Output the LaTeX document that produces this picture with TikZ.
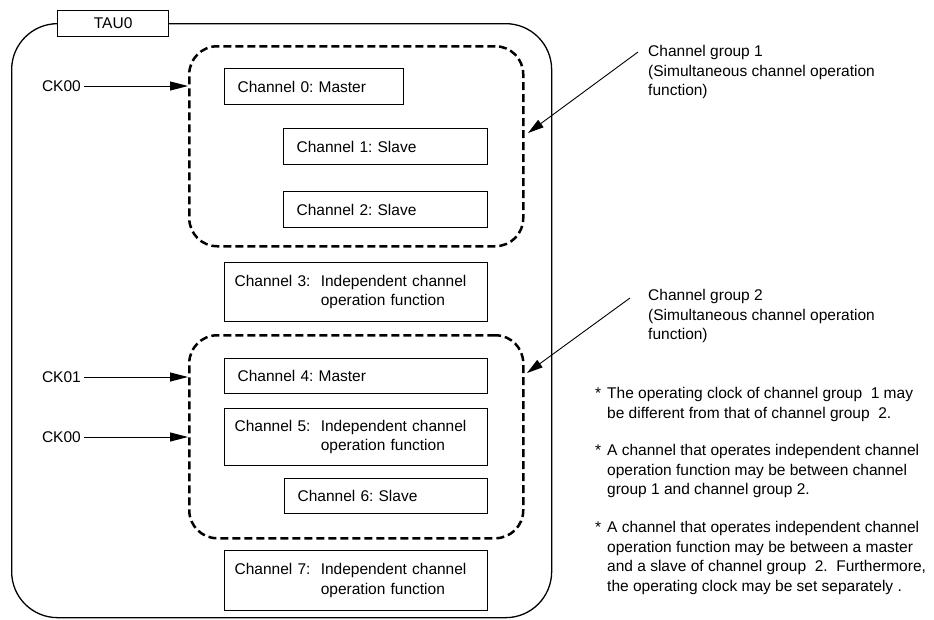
\documentclass[tikz,border=0pt]{standalone}
\usepackage{fontspec}
\setmainfont{Liberation Sans}
\usetikzlibrary{arrows.meta}
\begin{document}
\frenchspacing
\begin{tikzpicture}[x=1pt,y=-1pt,
  every node/.style={font=\fontsize{15.5}{19.5}\selectfont\frenchspacing},
  frame/.style={draw, line width=1.3pt, rounded corners=46pt, anchor=north west, inner sep=0pt},
  grp/.style={draw, line width=2.5pt, dash pattern=on 8pt off 4pt, rounded corners=28pt, anchor=north west, inner sep=0pt},
  chbox/.style={draw, line width=1.3pt, anchor=north west, align=left, inner ysep=0pt},
  onebox/.style={chbox, inner xsep=13pt},
  twobox/.style={chbox, inner xsep=10pt},
  lbl/.style={inner sep=0pt},
  txt/.style={inner sep=0pt, anchor=base west, align=left},
  ckarrow/.style={line width=1pt, -{Triangle[length=18pt,width=9pt]}},
  ptr/.style={line width=0.9pt, -{Triangle[length=16pt,width=9pt]}}]

\useasboundingbox (0,0) rectangle (934,619);
\fill[white] (0,0) rectangle (934,619);

% outer TAU0 frame
\node[frame, minimum width=540pt, minimum height=594pt] (tau) at (11,23) {};
\node[draw, line width=1.3pt, fill=white, anchor=north west, minimum width=111pt, minimum height=26pt, inner sep=0pt] (taulbl) at (57,10) {TAU0};

% channel groups
\node[grp, minimum width=334pt, minimum height=200pt] (g1) at (188,45) {};
\node[grp, minimum width=334pt, minimum height=203pt] (g2) at (188,334) {};

% channels
\node[onebox, minimum width=179pt, minimum height=36pt, text width=153pt] (c0) at (224,68) {Channel 0: Master};
\node[onebox, minimum width=204pt, minimum height=36pt, text width=178pt] (c1) at (283,128) {Channel 1: Slave};
\node[onebox, minimum width=204pt, minimum height=36pt, text width=178pt] (c2) at (283,191) {Channel 2: Slave};
\node[twobox, minimum width=263pt, minimum height=59pt, text width=243pt] (c3) at (224,262) {Channel 3:\ \ Independent channel\\\phantom{Channel 3:\ \ }operation function};
\node[onebox, minimum width=263pt, minimum height=35pt, text width=237pt] (c4) at (224,358) {Channel 4: Master};
\node[twobox, minimum width=263pt, minimum height=57pt, text width=243pt] (c5) at (224,408) {Channel 5:\ \ Independent channel\\\phantom{Channel 5:\ \ }operation function};
\node[onebox, minimum width=203pt, minimum height=35pt, text width=177pt] (c6) at (284,478) {Channel 6: Slave};
\node[twobox, minimum width=263pt, minimum height=60pt, text width=243pt] (c7) at (224,550) {Channel 7:\ \ Independent channel\\\phantom{Channel 7:\ \ }operation function};

% clock inputs
\node[lbl, anchor=east] (k0) at (81,86) {CK00};
\node[lbl, anchor=east] (k1) at (81,377) {CK01};
\node[lbl, anchor=east] (k2) at (81,437) {CK00};
\draw[ckarrow] ([xshift=3pt]k0.east) -- (k0.east -| g1.west);
\draw[ckarrow] ([xshift=3pt]k1.east) -- (k1.east -| g2.west);
\draw[ckarrow] ([xshift=3pt]k2.east) -- (k2.east -| g2.west);

% group labels (base anchor = baseline of last line)
\node[txt] (l1) at (648,95.5) {Channel group 1\\(Simultaneous channel operation\\function)};
\node[txt] (l2) at (648,339.5) {Channel group 2\\(Simultaneous channel operation\\function)};
\coordinate (p1s) at (638,52);
\coordinate (p1e) at (528,133);
\coordinate (p2s) at (630,298);
\coordinate (p2e) at (527,373);
\draw[ptr] (p1s) -- (p1e);
\draw[ptr] (p2s) -- (p2e);

% notes
\node[txt] (s1) at (595,398.5) {*};
\node[txt] (b1) at (607,418) {The operating clock of channel group\ \ 1 may\\be different from that of channel group\ \ 2.};
\node[txt] (s2) at (595,455.5) {*};
\node[txt] (b2) at (607,494.5) {A channel that operates independent channel\\operation function may be between channel\\group 1 and channel group 2.};
\node[txt] (s3) at (595,532.5) {*};
\node[txt] (b3) at (607,591) {A channel that operates independent channel\\operation function may be between a master\\and a slave of channel group\ \ 2.\ \ Furthermore,\\the operating clock may be set separately .};
\end{tikzpicture}
\end{document}
